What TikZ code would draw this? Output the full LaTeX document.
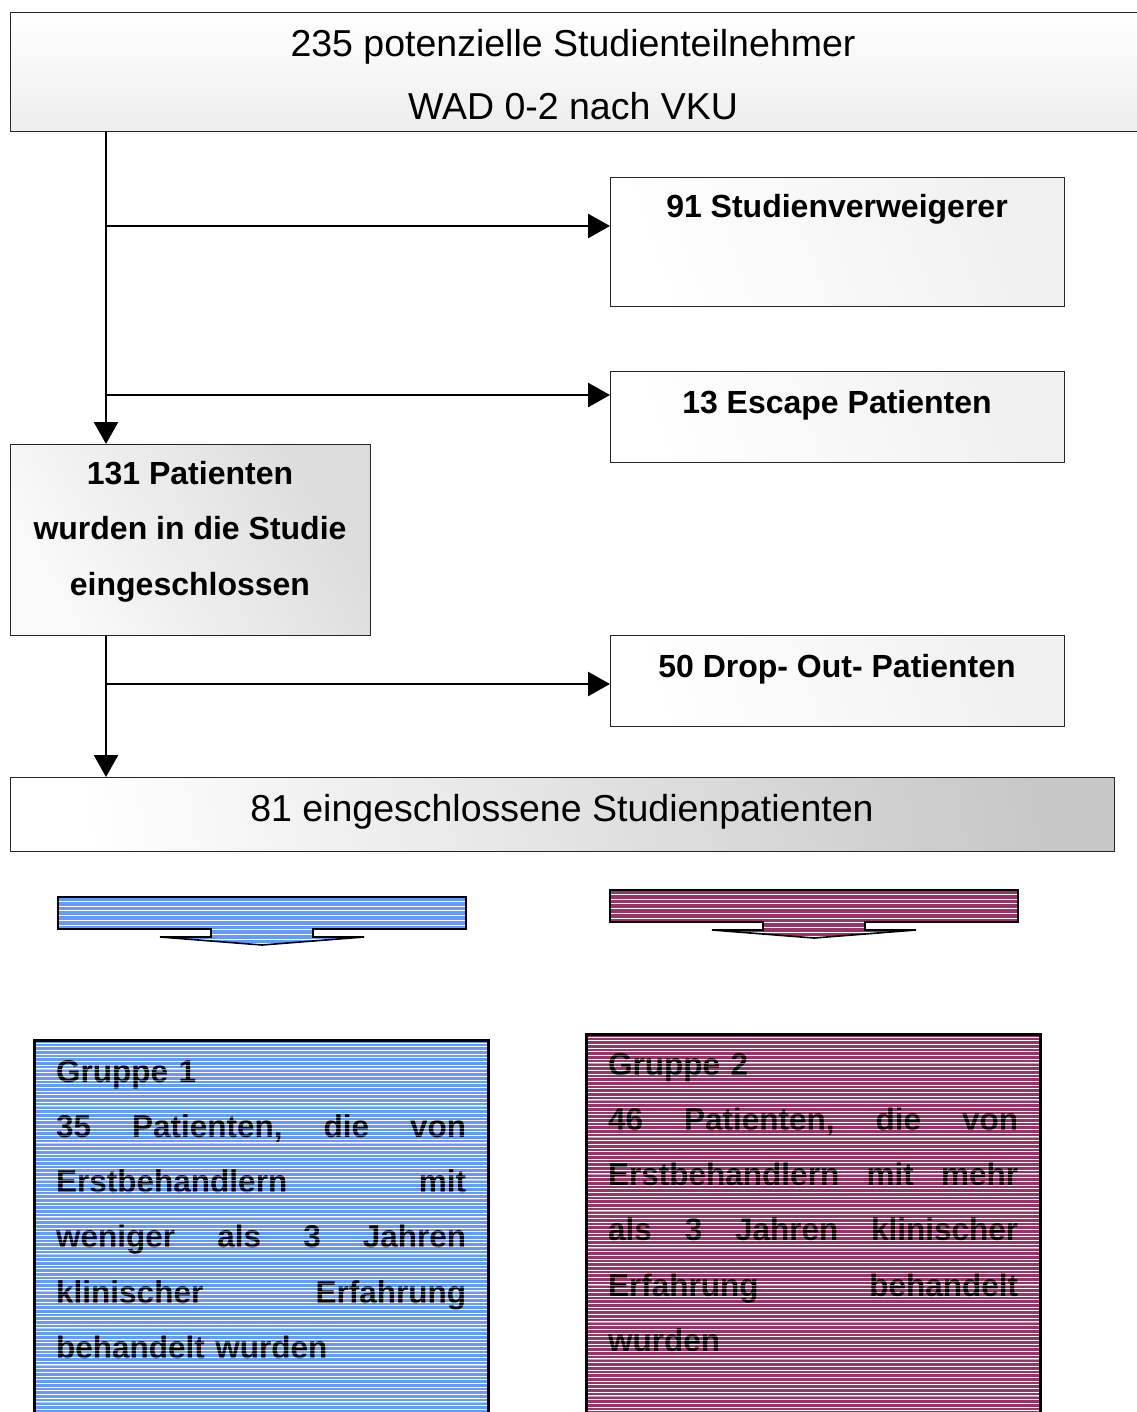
\documentclass[tikz,border=0pt]{standalone}
\usepackage{fontspec}
\setmainfont{Liberation Sans}
\usetikzlibrary{arrows.meta}
\definecolor{stblue}{HTML}{6699FF}
\definecolor{stpurple}{HTML}{993366}
\newcommand\jline[1]{\makebox[410pt][l]{#1}}
\tikzset{
  gbox/.style={draw=black!85, line width=1.3pt, inner sep=0pt, anchor=north west},
  arr/.style={line width=2.6pt, -{Triangle[length=22pt,width=24pt]}},
  regtext/.style={font=\fontsize{37.5}{63}\selectfont, inner sep=0pt, anchor=base, align=center},
  btext/.style={font=\fontsize{32}{55.5}\selectfont\bfseries, inner sep=0pt, anchor=base, align=center},
  grtext/.style={font=\fontsize{31.5}{55.3}\selectfont\bfseries, inner sep=0pt, anchor=base west, align=left, text width=410pt},
  stripe/.style={white, line width=0.9pt},
  tstripe/.style={white, line width=0.8pt, opacity=0.5},
  grbox/.style={draw=black, line width=3pt},
  arrowshape/.style={draw=black, line width=1.6pt, line join=miter},
}
\begin{document}
\begin{tikzpicture}[x=1pt,y=-1pt]
\useasboundingbox (0,0) rectangle (1136,1412);

% ---------- boxes ----------
\node[gbox, minimum width=1140pt, minimum height=119pt, top color=white, bottom color=black!7] (top) at (10,12) {};
\node[gbox, minimum width=454pt, minimum height=129pt, left color=white, right color=black!6, shading angle=110] (b91) at (610,177) {};
\node[gbox, minimum width=454pt, minimum height=91pt, left color=white, right color=black!6, shading angle=110] (b13) at (610,371) {};
\node[gbox, minimum width=360pt, minimum height=191pt, left color=black!2, right color=black!14, shading angle=120] (b131) at (10,444) {};
\node[gbox, minimum width=454pt, minimum height=91pt, left color=white, right color=black!6, shading angle=110] (b50) at (610,635) {};
\node[gbox, minimum width=1104pt, minimum height=74pt, left color=white, right color=black!22, shading angle=100] (b81) at (10,777) {};

% ---------- texts ----------
\node[regtext] (t235) at (573,120) {235 potenzielle Studienteilnehmer\\WAD 0-2 nach VKU};
\node[btext] (t91) at (837,218) {91 Studienverweigerer};
\node[btext] (t13) at (837,413) {13 Escape Patienten};
\node[btext] (t131) at (190,595) {131 Patienten\\wurden in die Studie\\eingeschlossen};
\node[btext] (t50) at (837,677) {50 Drop- Out- Patienten};
\node[regtext] (t81) at (562,821) {81 eingeschlossene Studienpatienten};

% ---------- connectors ----------
\coordinate (v) at (106,0);
\coordinate (j91) at (106,226);
\coordinate (j13) at (106,395);
\coordinate (j50) at (106,684);
\draw[arr] (top.south -| v) -- (b131.north -| v);
\draw[arr] (j91) -- (b91.west |- j91);
\draw[arr] (j13) -- (b13.west |- j13);
\draw[arr] (b131.south -| v) -- (b81.north -| v);
\draw[arr] (j50) -- (b50.west |- j50);

% ---------- blue block arrow ----------
\fill[stblue] (58,897) -- (466,897) -- (466,929) -- (313,929) -- (313,937) -- (364,937) -- (262,945) -- (160,937) -- (211,937) -- (211,929) -- (58,929) -- cycle;
\begin{scope}
  \clip (58,897) -- (466,897) -- (466,929) -- (313,929) -- (313,937) -- (364,937) -- (262,945) -- (160,937) -- (211,937) -- (211,929) -- (58,929) -- cycle;
  \foreach \yy in {901.5,906.2,...,945} \draw[stripe] (50,\yy) -- (470,\yy);
\end{scope}
\draw[arrowshape] (58,897) -- (466,897) -- (466,929) -- (313,929) -- (313,937) -- (364,937) -- (262,945) -- (160,937) -- (211,937) -- (211,929) -- (58,929) -- cycle;

% ---------- purple block arrow ----------
\fill[stpurple] (610,890) -- (1018,890) -- (1018,922) -- (865,922) -- (865,930) -- (916,930) -- (814,938) -- (712,930) -- (763,930) -- (763,922) -- (610,922) -- cycle;
\begin{scope}
  \clip (610,890) -- (1018,890) -- (1018,922) -- (865,922) -- (865,930) -- (916,930) -- (814,938) -- (712,930) -- (763,930) -- (763,922) -- (610,922) -- cycle;
  \foreach \yy in {894.5,899.2,...,938} \draw[stripe] (600,\yy) -- (1025,\yy);
\end{scope}
\draw[arrowshape] (610,890) -- (1018,890) -- (1018,922) -- (865,922) -- (865,930) -- (916,930) -- (814,938) -- (712,930) -- (763,930) -- (763,922) -- (610,922) -- cycle;

% ---------- Gruppe 1 ----------
\fill[stblue] (34,1040) rectangle (488,1420);
\foreach \yy in {1043,1046.7,...,1418} \draw[stripe] (35.5,\yy) -- (486.5,\yy);
\node[grtext] (g1) at (56,1082) {Gruppe 1\\
\jline{35\hfill Patienten,\hfill die\hfill von}\\
\jline{Erstbehandlern\hfill mit}\\
\jline{weniger\hfill als\hfill 3\hfill Jahren}\\
\jline{klinischer\hfill Erfahrung}\\
behandelt wurden};
\foreach \yy in {1043,1046.7,...,1418} \draw[tstripe] (35.5,\yy) -- (486.5,\yy);
\draw[grbox] (34,1420) -- (34,1040) -- (488,1040) -- (488,1420);

% ---------- Gruppe 2 ----------
\fill[stpurple] (586,1034) rectangle (1040,1420);
\foreach \yy in {1037,1040.7,...,1418} \draw[stripe] (587.5,\yy) -- (1038.5,\yy);
\node[grtext] (g2) at (608,1075) {Gruppe 2\\
\jline{46\hfill Patienten,\hfill die\hfill von}\\
\jline{Erstbehandlern\hfill mit\hfill mehr}\\
\jline{als\hfill 3\hfill Jahren\hfill klinischer}\\
\jline{Erfahrung\hfill behandelt}\\
wurden};
\foreach \yy in {1037,1040.7,...,1418} \draw[tstripe] (587.5,\yy) -- (1038.5,\yy);
\draw[grbox] (586,1420) -- (586,1034) -- (1040,1034) -- (1040,1420);
\end{tikzpicture}
\end{document}
